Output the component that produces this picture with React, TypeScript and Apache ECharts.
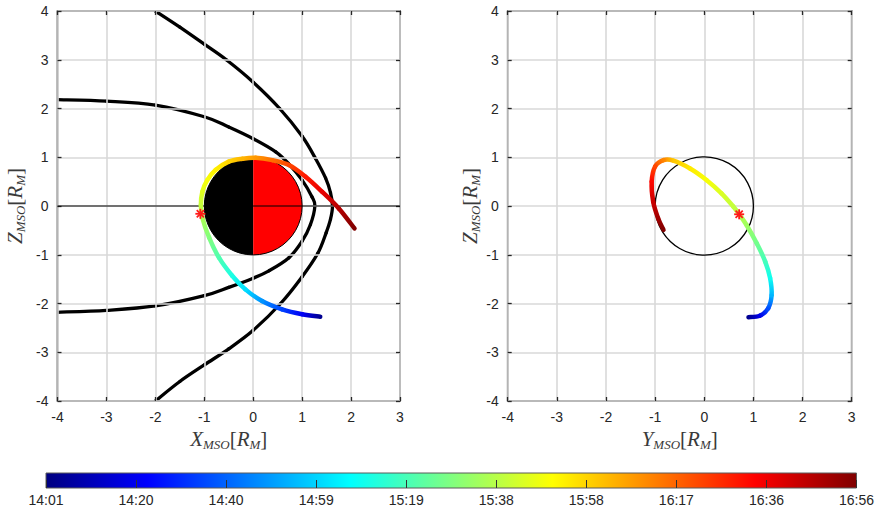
import React, { useEffect, useRef } from "react";
import * as echarts from "echarts";

// ---------- data ----------
const colorbarTickLabels = ["14:01", "14:20", "14:40", "14:59", "15:19", "15:38", "15:58", "16:17", "16:36", "16:56"];
const timeSpanMinutes = 175; // 14:01 -> 16:56

const bowShockXZ: [number, number][] = [
  [-2, 4], [-1.5, 3.67], [-1, 3.32], [-0.55, 3], [0, 2.54], [0.54, 2], [1, 1.43], [1.27, 0.98],
  [1.48, 0.57], [1.58, 0.27], [1.62, 0], [1.58, -0.27], [1.49, -0.55], [1.32, -0.97], [1, -1.45],
  [0.56, -2], [0, -2.55], [-0.5, -2.93], [-1, -3.26], [-1.5, -3.6], [-2, -4],
];

const magnetopauseXZ: [number, number][] = [
  [-4, 2.18], [-3, 2.15], [-2, 2.07], [-1, 1.83], [-0.5, 1.62], [0, 1.38], [0.46, 1.11], [0.73, 0.86],
  [1, 0.53], [1.2, 0.19], [1.26, 0], [1.17, -0.38], [1, -0.72], [0.73, -1.06], [0.32, -1.33],
  [0, -1.48], [-0.5, -1.67], [-1, -1.84], [-2, -2.05], [-3, -2.14], [-4, -2.18],
];

const trajectoryXZ: [number, number][] = [
  [1.37, -2.27], [1, -2.22], [0.59, -2.12], [0.18, -1.95], [-0.16, -1.71], [-0.43, -1.43],
  [-0.7, -1.06], [-0.9, -0.65], [-1.04, -0.24], [-1.07, 0.02], [-1.04, 0.29], [-0.94, 0.53],
  [-0.77, 0.74], [-0.5, 0.91], [-0.22, 0.97], [0.05, 0.99], [0.39, 0.94], [0.73, 0.84],
  [1.07, 0.6], [1.41, 0.29], [1.75, -0.05], [2.07, -0.46],
];
const trajectoryTimesXZ = [3, 20, 33, 47, 60, 70, 79, 88, 95, 99, 104, 108, 112, 117, 122, 127, 134, 141, 149, 157, 166, 175];

const trajectoryYZ: [number, number][] = [
  [0.9, -2.28], [1.13, -2.25], [1.3, -2.1], [1.37, -1.83], [1.34, -1.48], [1.24, -1.14],
  [1.07, -0.77], [0.86, -0.39], [0.71, -0.17], [0.59, -0.01], [0.35, 0.26], [0.05, 0.53],
  [-0.29, 0.77], [-0.63, 0.93], [-0.83, 0.94], [-1.0, 0.81], [-1.07, 0.5], [-1.04, 0.09],
  [-0.94, -0.25], [-0.83, -0.49],
];
const trajectoryTimesYZ = [3, 18, 35, 53, 68, 77, 85, 93, 97, 99, 103, 108, 113, 119, 130, 141, 152, 162, 169, 175];

const markerXZ: [number, number] = [-1.08, -0.16];
const markerYZ: [number, number] = [0.71, -0.17];
const planetRadius = 1;

// ---------- styling helpers ----------
const SANS = "'Liberation Sans', Arial, Helvetica, sans-serif";
const SERIF = "'Liberation Serif', 'Times New Roman', serif";
const TXT = "#262626";
const LABEL = "#3a3a3a";

function jet(f: number): string {
  const c = (v: number) => Math.max(0, Math.min(1, v));
  const r = c(1.5 - Math.abs(4 * f - 3));
  const g = c(1.5 - Math.abs(4 * f - 2));
  const b = c(1.5 - Math.abs(4 * f - 1));
  return `rgb(${Math.round(r * 255)},${Math.round(g * 255)},${Math.round(b * 255)})`;
}

// each item: [x0,y0,x1,y1, xPrev,yPrev, xNext,yNext, t0,t1]
function segments(pts: [number, number][], times?: number[]) {
  const n = pts.length;
  return pts.slice(0, -1).map((p, i) => {
    const q = pts[i + 1];
    const prev = pts[Math.max(0, i - 1)];
    const next = pts[Math.min(n - 1, i + 2)];
    return [p[0], p[1], q[0], q[1], prev[0], prev[1], next[0], next[1], times ? times[i] : 0, times ? times[i + 1] : 0];
  });
}

function bezierShape(api: any) {
  const a = api.coord([api.value(0), api.value(1)]);
  const b = api.coord([api.value(2), api.value(3)]);
  const p = api.coord([api.value(4), api.value(5)]);
  const n = api.coord([api.value(6), api.value(7)]);
  return {
    a,
    b,
    shape: {
      x1: a[0],
      y1: a[1],
      x2: b[0],
      y2: b[1],
      cpx1: a[0] + (b[0] - p[0]) / 6,
      cpy1: a[1] + (b[1] - p[1]) / 6,
      cpx2: b[0] - (n[0] - a[0]) / 6,
      cpy2: b[1] - (n[1] - a[1]) / 6,
    },
  };
}

function trajectoryRender(params: any, api: any) {
  const { a, b, shape } = bezierShape(api);
  const c0 = jet(api.value(8) / timeSpanMinutes);
  const c1 = jet(api.value(9) / timeSpanMinutes);
  return {
    type: "bezierCurve",
    shape,
    style: {
      stroke: new echarts.graphic.LinearGradient(a[0], a[1], b[0], b[1], [
        { offset: 0, color: c0 },
        { offset: 1, color: c1 },
      ], true),
      lineWidth: 4.5,
      lineCap: "round",
      fill: null,
    },
  };
}

function blackCurveRender(params: any, api: any) {
  const { shape } = bezierShape(api);
  return {
    type: "bezierCurve",
    shape,
    style: { stroke: "#000", lineWidth: 3.3, lineCap: "round", fill: null },
  };
}

function starRender(params: any, api: any) {
  const p = api.coord([api.value(0), api.value(1)]);
  const h = 5;
  const d = h * 0.72;
  const st = { stroke: "#ff1a1a", lineWidth: 1.8, fill: null };
  return {
    type: "group",
    children: [
      { type: "line", shape: { x1: p[0] - h, y1: p[1], x2: p[0] + h, y2: p[1] }, style: st },
      { type: "line", shape: { x1: p[0], y1: p[1] - h, x2: p[0], y2: p[1] + h }, style: st },
      { type: "line", shape: { x1: p[0] - d, y1: p[1] - d, x2: p[0] + d, y2: p[1] + d }, style: st },
      { type: "line", shape: { x1: p[0] - d, y1: p[1] + d, x2: p[0] + d, y2: p[1] - d }, style: st },
    ],
  };
}

const nameRich = {
  i: { fontFamily: SERIF, fontStyle: "italic", fontSize: 21, color: LABEL, lineHeight: 24 },
  u: { fontFamily: SERIF, fontSize: 21, color: LABEL, lineHeight: 24 },
  s: { fontFamily: SERIF, fontStyle: "italic", fontSize: 13, color: LABEL, lineHeight: 13, verticalAlign: "bottom" },
};
const axisName = (v: string) => `{i|${v}}{s|MSO}{u|[}{i|R}{s|M}{u|]}`;

function panelAxes(gridIndex: number, isX: boolean, name: string, nameGap: number) {
  const min = -4;
  const max = isX ? 3 : 4;
  const tick = { show: true, inside: true, length: 4, lineStyle: { color: TXT, width: 1.3 } };
  const main: any = {
    type: "value",
    gridIndex,
    min,
    max,
    interval: 1,
    position: isX ? "bottom" : "left",
    axisLine: { show: false, onZero: false },
    axisTick: tick,
    axisLabel: { show: true, fontFamily: SANS, fontSize: 14, color: TXT, margin: 9 },
    splitLine: { show: true, lineStyle: { color: "#d9d9d9", width: 1.6 } },
    name,
    nameLocation: "middle",
    nameGap,
    nameRotate: isX ? 0 : 90,
    nameTextStyle: { rich: nameRich },
    z: 3,
  };
  const mirror: any = {
    type: "value",
    gridIndex,
    min,
    max,
    interval: 1,
    position: isX ? "top" : "right",
    axisLine: { show: false, onZero: false },
    axisTick: tick,
    axisLabel: { show: false },
    splitLine: { show: false },
    z: 3,
  };
  return [main, mirror];
}

export default function App() {
  const ref = useRef<HTMLDivElement>(null);

  useEffect(() => {
    document.body.style.margin = "0";
    const chart = echarts.init(ref.current!, null, { renderer: "svg" });

    const [x0, x0m] = panelAxes(0, true, axisName("X"), 24);
    const [y0, y0m] = panelAxes(0, false, axisName("Z"), 31);
    const [x1, x1m] = panelAxes(1, true, axisName("Y"), 24);
    const [y1, y1m] = panelAxes(1, false, axisName("Z"), 26);

    const gradStops = Array.from({ length: 17 }, (_, i) => ({ offset: i / 16, color: jet(i / 16) }));

    const option: any = {
      animation: false,
      backgroundColor: "#ffffff",
      grid: [
        { left: 57.5, top: 11, width: 342.5, height: 390, show: true, borderColor: TXT, borderWidth: 1.6, backgroundColor: "transparent" },
        { left: 507.7, top: 11, width: 344, height: 390, show: true, borderColor: TXT, borderWidth: 1.6, backgroundColor: "transparent" },
        { left: 46, top: 473, width: 813, height: 15, show: false },
      ],
      xAxis: [
        x0, x0m, x1, x1m,
        {
          type: "value",
          gridIndex: 2,
          min: 0,
          max: colorbarTickLabels.length - 1,
          interval: 1,
          position: "bottom",
          z: 10,
          axisLine: { show: false, onZero: false },
          axisTick: { show: true, inside: true, length: 8, lineStyle: { color: "#333", width: 1 } },
          axisLabel: {
            show: true,
            fontFamily: SANS,
            fontSize: 14,
            color: TXT,
            margin: 5,
            formatter: (v: number) => colorbarTickLabels[Math.round(v)] ?? "",
          },
          splitLine: { show: false },
        },
      ],
      yAxis: [
        y0, y0m, y1, y1m,
        { type: "value", gridIndex: 2, min: 0, max: 1, show: false },
      ],
      series: [
        {
          type: "custom",
          xAxisIndex: 0,
          yAxisIndex: 0,
          data: segments(bowShockXZ),
          renderItem: blackCurveRender,
          clip: true,
          z: 2,
        },
        {
          type: "custom",
          xAxisIndex: 0,
          yAxisIndex: 0,
          data: segments(magnetopauseXZ),
          renderItem: blackCurveRender,
          clip: true,
          z: 2,
        },
        {
          type: "custom",
          xAxisIndex: 0,
          yAxisIndex: 0,
          data: [[0, 0, planetRadius]],
          z: 3,
          renderItem: (params: any, api: any) => {
            const c = api.coord([api.value(0), api.value(1)]);
            const r = api.size([api.value(2), api.value(2)])[0];
            return {
              type: "group",
              children: [
                { type: "sector", shape: { cx: c[0], cy: c[1], r0: 0, r, startAngle: Math.PI / 2, endAngle: (3 * Math.PI) / 2 }, style: { fill: "#000" } },
                { type: "sector", shape: { cx: c[0], cy: c[1], r0: 0, r, startAngle: -Math.PI / 2, endAngle: Math.PI / 2 }, style: { fill: "#ff0000" } },
                { type: "circle", shape: { cx: c[0], cy: c[1], r }, style: { fill: null, stroke: "#000", lineWidth: 1 } },
              ],
            };
          },
        },
        {
          type: "line",
          xAxisIndex: 0,
          yAxisIndex: 0,
          data: [[-4, 0], [3, 0]],
          symbol: "none",
          lineStyle: { color: "#000", width: 1 },
          z: 4,
        },
        {
          type: "custom",
          xAxisIndex: 0,
          yAxisIndex: 0,
          data: segments(trajectoryXZ, trajectoryTimesXZ),
          renderItem: trajectoryRender,
          z: 5,
        },
        {
          type: "custom",
          xAxisIndex: 0,
          yAxisIndex: 0,
          data: [markerXZ],
          renderItem: starRender,
          z: 6,
        },
        {
          type: "custom",
          xAxisIndex: 2,
          yAxisIndex: 2,
          data: [[0, 0, planetRadius]],
          z: 3,
          renderItem: (params: any, api: any) => {
            const c = api.coord([api.value(0), api.value(1)]);
            const r = api.size([api.value(2), api.value(2)])[0];
            return { type: "circle", shape: { cx: c[0], cy: c[1], r }, style: { fill: null, stroke: "#000", lineWidth: 1.3 } };
          },
        },
        {
          type: "custom",
          xAxisIndex: 2,
          yAxisIndex: 2,
          data: segments(trajectoryYZ, trajectoryTimesYZ),
          renderItem: trajectoryRender,
          z: 5,
        },
        {
          type: "custom",
          xAxisIndex: 2,
          yAxisIndex: 2,
          data: [markerYZ],
          renderItem: starRender,
          z: 6,
        },
        {
          type: "custom",
          xAxisIndex: 4,
          yAxisIndex: 4,
          data: [[0, 0, colorbarTickLabels.length - 1, 1]],
          z: 1,
          renderItem: (params: any, api: any) => {
            const a = api.coord([api.value(0), api.value(3)]);
            const b = api.coord([api.value(2), api.value(1)]);
            return {
              type: "rect",
              shape: { x: a[0], y: a[1], width: b[0] - a[0], height: b[1] - a[1] },
              style: {
                fill: new echarts.graphic.LinearGradient(0, 0, 1, 0, gradStops),
                stroke: "#5a5a5a",
                lineWidth: 1,
              },
            };
          },
        },
      ],
    };

    chart.setOption(option);
    return () => chart.dispose();
  }, []);

  return <div ref={ref} style={{ width: 877, height: 516 }} />;
}
